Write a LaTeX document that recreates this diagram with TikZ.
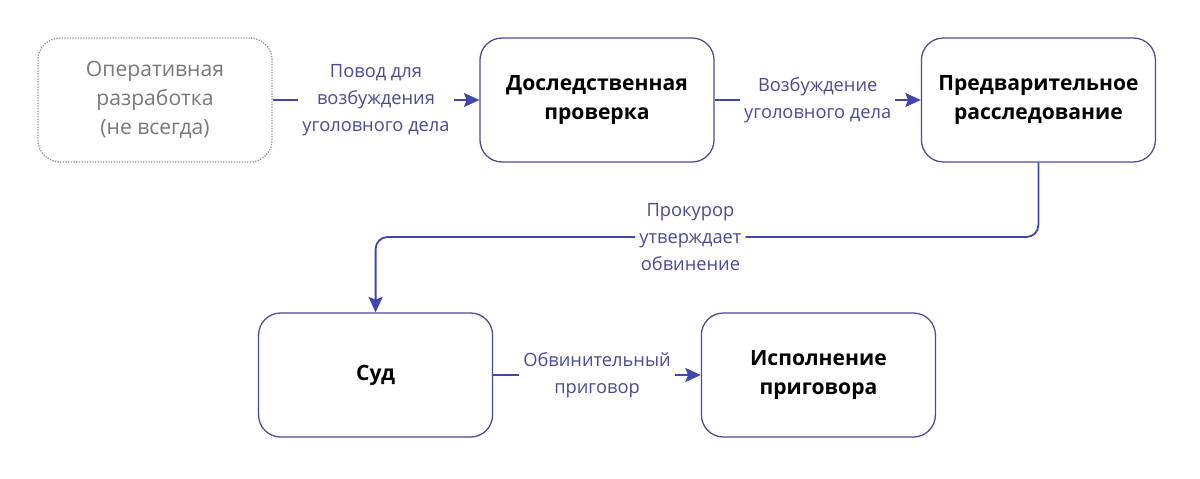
\documentclass[tikz,border=0pt]{standalone}
\usepackage{fontspec}
\setmainfont{Open Sans}
\usetikzlibrary{arrows.meta}
\definecolor{boxline}{RGB}{74,74,150}
\definecolor{arrline}{RGB}{64,70,170}
\definecolor{labtext}{RGB}{74,74,150}
\definecolor{dimtext}{RGB}{120,120,120}

\begin{document}
\begin{tikzpicture}[
    stage/.style={draw=boxline,line width=0.9pt,rounded corners=0.55cm,minimum width=5.85cm,minimum height=3.1cm,align=center,font=\fontsize{15}{20.6}\selectfont\bfseries},
    optstage/.style={stage,draw=dimtext!80,densely dotted,text=dimtext,font=\fontsize{15}{20.5}\selectfont},
    arr/.style={-{Stealth[length=11pt,width=10pt,inset=2pt]},draw=arrline,line width=1.3pt},
    lab/.style={fill=white,text=labtext,align=center,inner sep=3pt,font=\fontsize{13}{19}\selectfont}
]
    \useasboundingbox (0,0) rectangle (30,-11.95);

    \node[optstage] (oper) at (3.875,-2.5) {Оперативная\\разработка\\(не всегда)};
    \node[stage] (check) at (14.925,-2.5) {Доследственная\\проверка};
    \node[stage] (invest) at (25.96,-2.5) {Предварительное\\расследование};
    \node[stage] (court) at (9.39,-9.375) {Суд};
    \node[stage] (exec) at (20.46,-9.375) {Исполнение\\приговора};

    \coordinate (turn) at (0,-5.925);

    \draw[arr] (oper) -- node[lab] {Повод для\\возбуждения\\уголовного дела} (check);
    \draw[arr] (check) -- node[lab] {Возбуждение\\уголовного дела} (invest);
    \draw[arr,rounded corners=0.3cm] (invest.south) -- (invest.south |- turn) -- node[lab,pos=0.525] {Прокурор\\утверждает\\обвинение} (court.north |- turn) -- (court.north);
    \draw[arr] (court) -- node[lab] {Обвинительный\\приговор} (exec);
\end{tikzpicture}
\end{document}
